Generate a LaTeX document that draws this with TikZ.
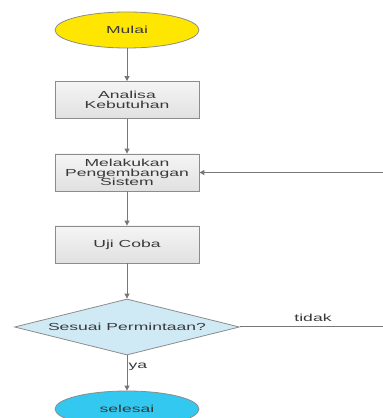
\documentclass[tikz,border=0pt]{standalone}
\usepackage{fontspec}
\setmainfont{Liberation Sans}
\newfontfamily\widefont[FakeStretch=1.72]{Liberation Sans}
\usetikzlibrary{shapes.geometric,arrows.meta}
\definecolor{startyel}{HTML}{FFE600}
\definecolor{endcyan}{HTML}{33C8F0}
\definecolor{decblue}{HTML}{D0EAF5}
\definecolor{edgegray}{HTML}{8C8C8C}
\definecolor{linegray}{HTML}{777777}
\definecolor{txtgray}{HTML}{3A3A3A}
\tikzset{
  base/.style={draw=edgegray, line width=0.8pt, inner sep=0pt, text=txtgray,
    font=\widefont\fontsize{10.2}{9.6}\selectfont, align=center},
  term/.style={base, ellipse, minimum width=144pt, minimum height=36pt},
  proc/.style={base, rectangle, minimum width=144pt, minimum height=37pt,
    top color=white!96!black, bottom color=white!88!black},
  dec/.style={base, diamond, shape aspect=4, minimum width=225pt, minimum height=56pt, fill=decblue},
  conn/.style={draw=linegray, line width=1pt, -{Triangle[length=5pt,width=5pt]}},
  lbl/.style={text=txtgray, font=\widefont\fontsize{10.2}{10}\selectfont, inner sep=1pt}
}
\begin{document}
\begin{tikzpicture}[x=1pt,y=1pt]
\clip (0,0) rectangle (383,418);
\fill[white] (0,0) rectangle (383,418);
\node[term, fill=startyel] (mulai) at (127,388) {Mulai};
\node[proc] (ana) at (127,318) {Analisa\\Kebutuhan};
\node[proc] (mel) at (127,245.5) {Melakukan\\Pengembangan\\Sistem};
\node[proc] (uji) at (127,173.5) {Uji Coba};
\node[dec] (dec) at (127,91) {Sesuai Permintaan?};
\node[term, fill=endcyan] (sel) at (127,9) {selesai};
\coordinate (r1) at (386,91);
\coordinate (r2) at (386,245.5);
\draw[conn] (mulai) -- (ana);
\draw[conn] (ana) -- (mel);
\draw[conn] (mel) -- (uji);
\draw[conn] (uji) -- (dec);
\draw[conn] (dec) -- (sel);
\draw[conn] (dec.east) -- (r1) -- (r2) -- (mel.east);
\node[lbl] (tdk) at (313,100) {tidak};
\node[lbl, anchor=west] (ya) at (127.5,51) {ya};
\end{tikzpicture}
\end{document}
